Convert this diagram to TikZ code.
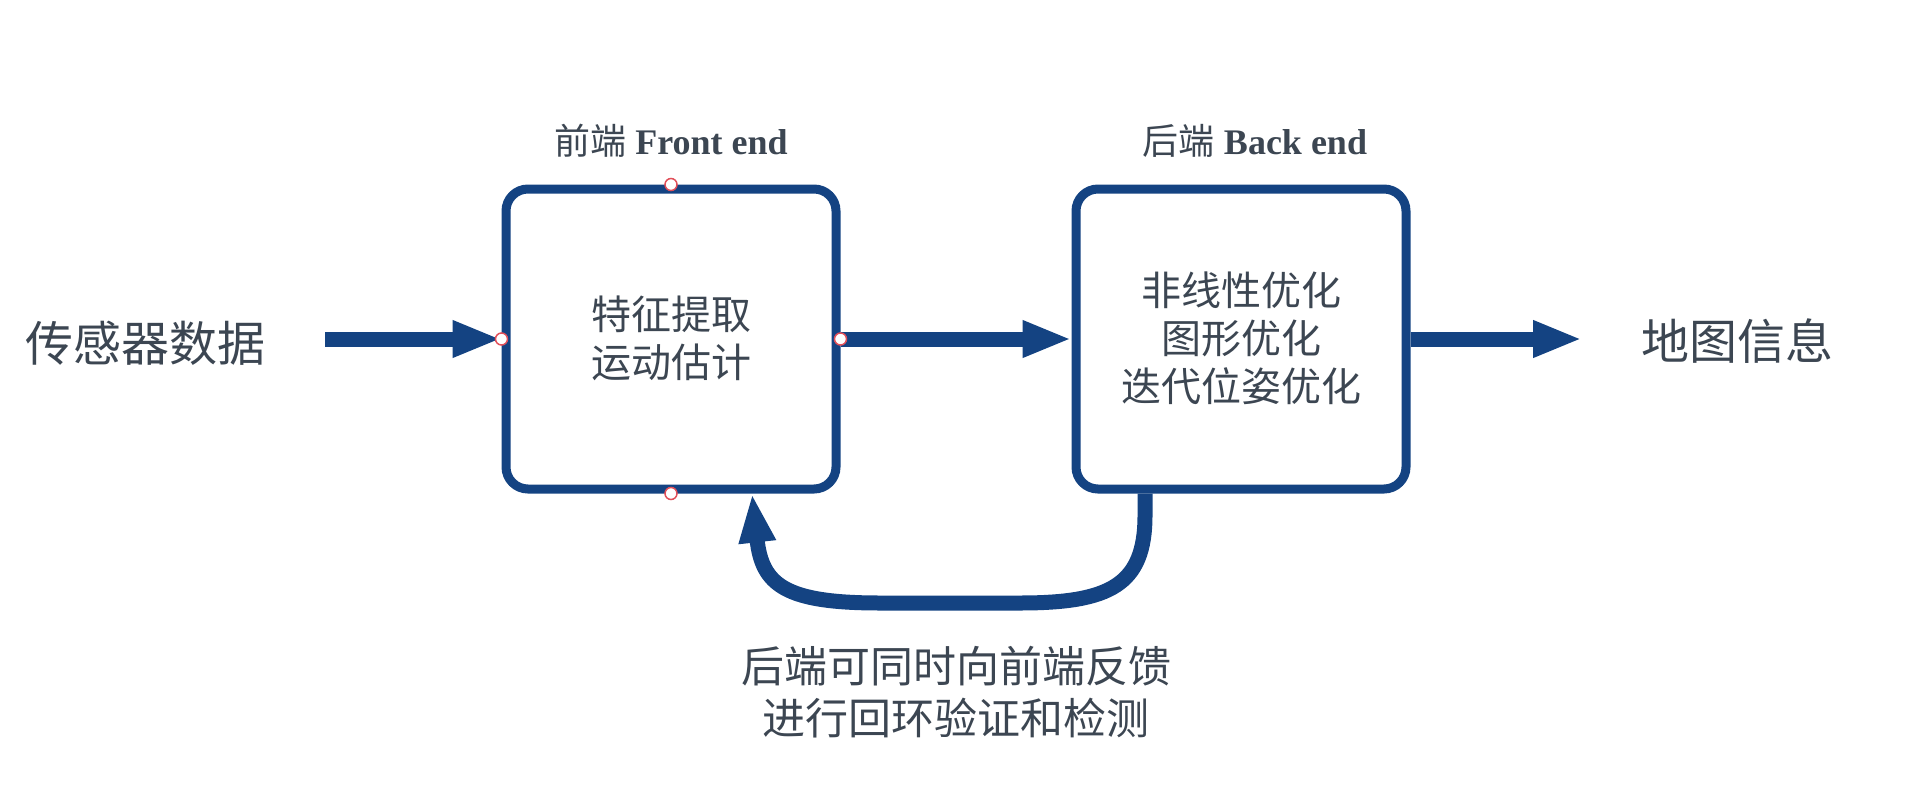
\documentclass[tikz,border=0pt]{standalone}
\usepackage{fontspec}
\setmainfont{Liberation Serif}
\newfontfamily\cjk{Noto Sans CJK SC}
\usetikzlibrary{arrows.meta}
\definecolor{navy}{RGB}{20,67,130}
\definecolor{ink}{RGB}{60,70,82}
\definecolor{pin}{RGB}{225,80,90}
\tikzset{
  procbox/.style={draw=navy, line width=9pt, rounded corners=22pt, fill=white,
    minimum width=330pt, minimum height=300pt, inner sep=0pt},
  boxtext/.style={text=ink, font=\cjk\fontsize{40}{48}\selectfont, align=center},
  sidetext/.style={text=ink, font=\cjk\fontsize{48}{56}\selectfont},
  titletext/.style={text=ink, font=\fontsize{36}{42}\selectfont},
  flow/.style={draw=navy, line width=15pt, -{Triangle[length=49pt,width=34pt]}},
  pinmark/.style={circle, draw=pin, fill=white, line width=1.5pt, minimum size=12pt, inner sep=0pt}
}
\begin{document}
\begin{tikzpicture}[x=1pt, y=-1pt]
\useasboundingbox (0,0) rectangle (1927,803);
% boxes
\node[procbox] (front) at (671,339) {};
\node[procbox] (back) at (1241,339) {};
\node[boxtext] (ftext) at (671,338) {特征提取\\运动估计};
\node[boxtext] (btext) at (1241,338) {非线性优化\\图形优化\\迭代位姿优化};
% titles
\node[titletext] (ftitle) at (671,141) {{\cjk 前端} \textbf{Front end}};
\node[titletext] (btitle) at (1255,141) {{\cjk 后端} \textbf{Back end}};
% side texts
\node[sidetext] (sensor) at (145,343) {传感器数据};
\node[sidetext] (map) at (1737,341) {地图信息};
% connectors
\coordinate (instart) at (325,339);
\coordinate (outend) at (1582,339);
\draw[flow] (instart) -- (front.west);
\draw[flow] (front.east) -- (back.west);
\draw[flow] (back.east) -- (outend);
\draw[flow] ([xshift=-96pt]back.south) -- ++(0,22)
  .. controls (1145,585) and (1110,603) .. (1020,603) -- (880,603)
  .. controls (785,603) and (762,585) .. ([xshift=81pt]front.south);
% feedback label
\node[text=ink, font=\cjk\fontsize{43}{52}\selectfont, align=center] (note) at (956,692) {后端可同时向前端反馈\\进行回环验证和检测};
% connection point markers
\node[pinmark] (p1) at (front.north) {};
\node[pinmark] (p2) at (front.south) {};
\node[pinmark] (p3) at (front.west) {};
\node[pinmark] (p4) at (front.east) {};
\end{tikzpicture}
\end{document}
